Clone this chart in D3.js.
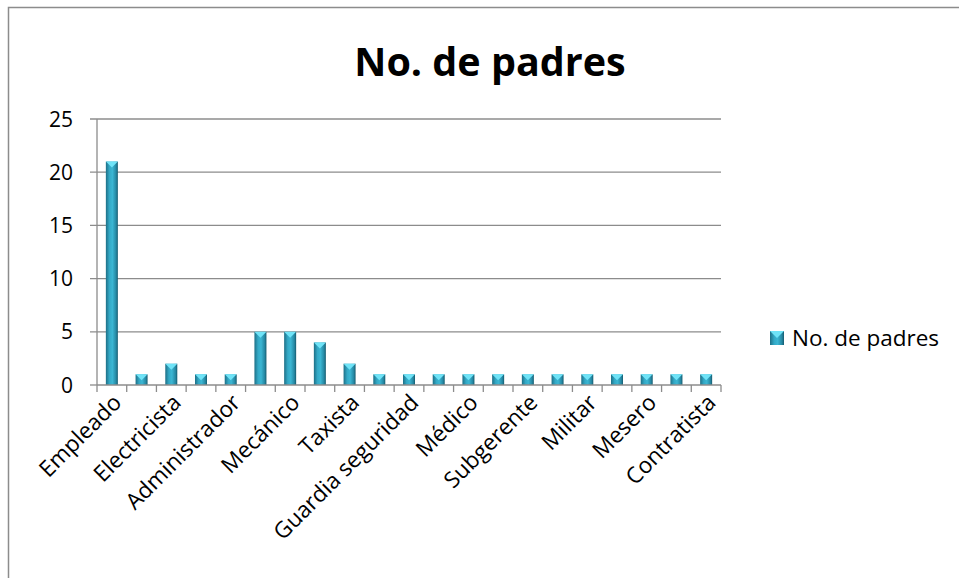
<!DOCTYPE html>
<html><head><meta charset="utf-8">
<script src="https://cdn.jsdelivr.net/npm/d3@7"></script>
<style>body{margin:0;background:#fff;}</style>
</head><body><svg id="c" width="959" height="578"></svg>
<script>
const categories = ["Empleado","Obrero","Electricista","Chofer","Administrador","Comerciante","Mecánico","Albañil","Taxista","Contador","Guardia seguridad","Ingeniero","Médico","Profesor","Subgerente","Carpintero","Militar","Policía","Mesero","Pintor","Contratista"];
const values = [21,1,2,1,1,5,5,4,2,1,1,1,1,1,1,1,1,1,1,1,1];
const yTicks = [0,5,10,15,20,25];
const seriesName = "No. de padres";
const title = "No. de padres";

(function(){
const svg = d3.select("#c");
const font = "'Open Sans',sans-serif";
svg.append("rect").attr("x",8.5).attr("y",7.5).attr("width",970).attr("height",600)
  .attr("fill","#fff").attr("stroke","#8c8c8c").attr("stroke-width",1.5);

const defs = svg.append("defs");
const g1 = defs.append("linearGradient").attr("id","barg").attr("x1","0").attr("x2","1").attr("y1","0").attr("y2","0");
[[0,"#1d6f86"],[0.3,"#33a9c6"],[0.55,"#3bb6d3"],[0.85,"#2588a3"],[1,"#155a6e"]].forEach(s=>g1.append("stop").attr("offset",s[0]).attr("stop-color",s[1]));

const pL=97, pR=721, pT=119, pB=385;
const x = d3.scaleBand().domain(categories).range([pL,pR]).paddingInner(0.6).paddingOuter(0.3);
const y = d3.scaleLinear().domain([0,25]).range([pB,pT]);

svg.append("g").selectAll("line").data(yTicks.filter(t=>t>0)).join("line")
  .attr("x1",pL-7).attr("x2",pR).attr("y1",d=>y(d)).attr("y2",d=>y(d))
  .attr("stroke","#8c8c8c").attr("stroke-width",1.3);

svg.append("line").attr("x1",pL).attr("x2",pL).attr("y1",pT).attr("y2",pB).attr("stroke","#8c8c8c").attr("stroke-width",1.3);
svg.append("g").selectAll("text").data(yTicks).join("text")
  .attr("x",73).attr("y",d=>y(d)).attr("dy","0.36em").attr("text-anchor","end")
  .attr("font-family",font).attr("font-size",21).attr("fill","#000").text(d=>d);
svg.append("line").attr("x1",pL-7).attr("x2",pL).attr("y1",pB).attr("y2",pB).attr("stroke","#8c8c8c").attr("stroke-width",1.3);

const bw = 12;
const bars = svg.append("g").selectAll("g").data(categories).join("g");
bars.append("rect").attr("x",(d)=>x(d)+x.bandwidth()/2-bw/2).attr("y",(d,i)=>y(values[i]))
  .attr("width",bw).attr("height",(d,i)=>pB-y(values[i])).attr("fill","url(#barg)");
bars.append("path").attr("d",(d,i)=>{
  const cx=x(d)+x.bandwidth()/2, yt=y(values[i]);
  return `M${cx-bw/2},${yt}L${cx+bw/2},${yt}L${cx},${yt+6}Z`;
}).attr("fill","#6fe3f7");

const step = x.step();
svg.append("line").attr("x1",pL).attr("x2",pR).attr("y1",pB).attr("y2",pB).attr("stroke","#8c8c8c").attr("stroke-width",1.3);
svg.append("g").selectAll("line").data(d3.range(categories.length+1)).join("line")
  .attr("x1",i=>pL+i*step).attr("x2",i=>pL+i*step).attr("y1",pB).attr("y2",pB+7)
  .attr("stroke","#8c8c8c").attr("stroke-width",1.3);

svg.append("g").selectAll("text").data(categories.filter((d,i)=>i%2===0)).join("text")
  .attr("transform",d=>`translate(${x(d)+x.bandwidth()/2+11},${pB+19}) rotate(-45)`)
  .attr("text-anchor","end").attr("font-family",font).attr("font-size",22.5).attr("fill","#000").text(d=>d);

svg.append("text").attr("x",490).attr("y",76).attr("text-anchor","middle").attr("font-family",font)
  .attr("font-weight","bold").attr("font-size",39.5).attr("fill","#000").text(title);

svg.append("rect").attr("x",770).attr("y",331).attr("width",14).attr("height",14).attr("fill","url(#barg)");
svg.append("path").attr("d","M770,331L784,331L777,338Z").attr("fill","#6fe3f7");
svg.append("text").attr("x",792).attr("y",338).attr("dy","0.36em").attr("font-family",font).attr("font-size",22.5).attr("fill","#000").text(seriesName);
})();
</script></body></html>
